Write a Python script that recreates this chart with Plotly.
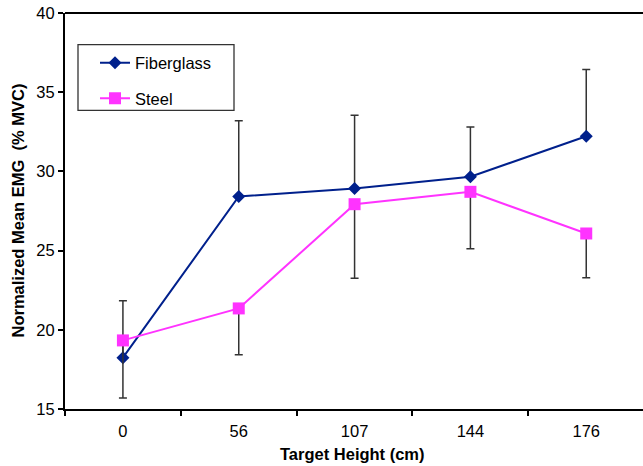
import plotly.graph_objects as go

categories = ["0", "56", "107", "144", "176"]
fiberglass = [18.24, 28.42, 28.92, 29.66, 32.22]
fiberglass_err_plus = [3.59, 4.77, 4.63, 3.15, 4.21]
steel = [19.33, 21.35, 27.93, 28.71, 26.08]
steel_err_minus = [3.64, 2.92, 4.67, 3.60, 2.80]
y_ticks = [15, 20, 25, 30, 35, 40]

FONT = "Liberation Sans, Arial, sans-serif"
FS = 16.5
NAVY = "#00208C"
MAGENTA = "#FF33FF"

fig = go.Figure()
fig.add_trace(go.Scatter(
    x=categories, y=fiberglass, name="Fiberglass", mode="lines+markers",
    line=dict(color=NAVY, width=2),
    marker=dict(symbol="diamond", size=10, color=NAVY),
    error_y=dict(type="data", symmetric=False, array=fiberglass_err_plus,
                 arrayminus=[0] * len(fiberglass), color="#333333",
                 thickness=1.5, width=4),
    legendgroup="a",
))
fig.add_trace(go.Scatter(
    x=categories, y=steel, name="Steel", mode="lines+markers",
    line=dict(color=MAGENTA, width=2),
    marker=dict(symbol="square", size=12, color=MAGENTA),
    error_y=dict(type="data", symmetric=False, array=[0] * len(steel),
                 arrayminus=steel_err_minus, color="#333333",
                 thickness=1.5, width=4),
    legendgroup="b",
))

W, H = 643, 466
ml, mr, mt, mb = 65, 0, 13, 57
pw = W - ml - mr
ph = H - mt - mb

def px_x(p):
    return (p - ml) / pw

def px_y(p):
    return (H - mb - p) / ph

fig.update_layout(
    width=W, height=H,
    margin=dict(l=ml, r=mr, t=mt, b=mb, pad=0),
    plot_bgcolor="white", paper_bgcolor="white",
    font=dict(family=FONT, size=FS, color="black"),
    showlegend=True,
    legend=dict(
        x=px_x(95), y=px_y(45.5), xanchor="left", yanchor="top",
        bgcolor="rgba(0,0,0,0)", borderwidth=0,
        traceorder="grouped", tracegroupgap=11,
        font=dict(family=FONT, size=FS, color="black"),
    ),
    xaxis=dict(
        type="category", range=[-0.5, 4.49],
        showline=True, linecolor="black", linewidth=2,
        ticks="outside", tickson="boundaries", ticklen=5, tickwidth=1.5,
        tickcolor="black", showgrid=False, zeroline=False,
        ticklabelstandoff=6,
    ),
    yaxis=dict(
        range=[15, 40], tickvals=y_ticks,
        showline=True, linecolor="black", linewidth=2,
        ticks="outside", ticklen=5, tickwidth=1.5, tickcolor="black",
        showgrid=False, zeroline=False,
    ),
    shapes=[
        dict(type="line", xref="paper", yref="paper", x0=0, x1=1, y0=1, y1=1,
             line=dict(color="black", width=2)),
        dict(type="rect", xref="paper", yref="paper",
             x0=px_x(78), x1=px_x(234), y0=px_y(110.3), y1=px_y(44.7),
             line=dict(color="#333333", width=1.3)),
    ],
    annotations=[
        dict(text="<b>Target Height (cm)</b>", xref="paper", yref="paper",
             x=px_x(352.5), y=px_y(454), xanchor="center", yanchor="middle",
             showarrow=False, font=dict(family=FONT, size=FS, color="black")),
        dict(text="<b>Normalized Mean EMG  (% MVC)</b>", xref="paper", yref="paper",
             x=px_x(17.5), y=0.5, xanchor="center", yanchor="middle",
             textangle=-90, showarrow=False,
             font=dict(family=FONT, size=FS, color="black")),
    ],
)

fig.write_html("out.html")
